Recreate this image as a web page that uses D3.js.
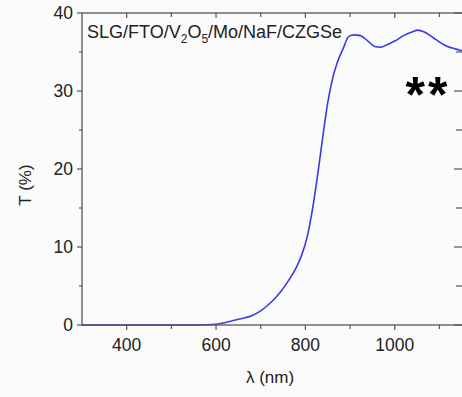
<!DOCTYPE html>
<html>
<head>
<meta charset="utf-8">
<script src="https://cdn.jsdelivr.net/npm/d3@7"></script>
<style>
  html, body { margin: 0; padding: 0; background: #fbfbfb; }
  svg { display: block; }
</style>
</head>
<body>
<div id="chart"></div>
<script>
// wavelength (nm) and transmittance (%)
const wavelengths = [300, 400, 500, 560, 600, 620, 655, 680, 700, 715, 730, 745, 760, 778, 790, 804, 818, 829, 841, 850, 860, 871, 885, 897, 910, 923, 940, 955, 968, 985, 1000, 1020, 1040, 1051, 1065, 1087, 1105, 1118, 1135, 1155]
const transmittance = [0, 0, 0, 0, 0.1, 0.3, 0.8, 1.2, 1.8, 2.5, 3.3, 4.3, 5.5, 7.2, 8.7, 11.3, 15.6, 19.9, 25, 28.5, 31.4, 33.6, 35.5, 37.0, 37.2, 37.1, 36.4, 35.7, 35.6, 36.0, 36.4, 37.1, 37.6, 37.8, 37.6, 36.8, 36.1, 35.7, 35.4, 35.1]
const xMajorTicks = [400, 600, 800, 1000]
const xMinorTicks = [500, 700, 900, 1100]
const yMajorTicks = [0, 10, 20, 30, 40]
const yMinorTicks = [5, 15, 25, 35]

const width = 462, height = 397
const margin = { top: 13, right: -2, bottom: 72, left: 82 }
const font = "'Liberation Sans', Arial, sans-serif"
const axisColor = "#555"

const svg = d3.select("#chart").append("svg")
  .attr("width", width).attr("height", height)
  .style("font-family", font)

svg.append("rect").attr("width", width).attr("height", height).attr("fill", "#fbfbfb")

const x = d3.scaleLinear().domain([300, 1155]).range([margin.left, width - margin.right])
const y = d3.scaleLinear().domain([0, 40]).range([height - margin.bottom, margin.top])

const x0 = x.range()[0], x1 = x.range()[1]
const y0 = y.range()[0], y1 = y.range()[1]

// line
const line = d3.line()
  .x((d, i) => x(wavelengths[i]))
  .y(d => y(d))
  .curve(d3.curveMonotoneX)

svg.append("path")
  .datum(transmittance)
  .attr("d", line)
  .attr("fill", "none")
  .attr("stroke", "#3a3ae6")
  .attr("stroke-width", 1.6)

// frame
svg.append("rect")
  .attr("x", x0).attr("y", y1)
  .attr("width", x1 - x0).attr("height", y0 - y1)
  .attr("fill", "none").attr("stroke", axisColor).attr("stroke-width", 1.3)

const ticks = svg.append("g").attr("stroke", axisColor).attr("stroke-width", 1.2)

// bottom (outward) and top (inward) ticks
xMajorTicks.concat(xMinorTicks).forEach(v => {
  const len = xMajorTicks.includes(v) ? 5 : 4
  ticks.append("line").attr("x1", x(v)).attr("x2", x(v)).attr("y1", y0).attr("y2", y0 + len)
  ticks.append("line").attr("x1", x(v)).attr("x2", x(v)).attr("y1", y1).attr("y2", y1 + len)
})

// left (outward) and right (inward) ticks
yMajorTicks.concat(yMinorTicks).forEach(v => {
  const len = yMajorTicks.includes(v) ? 5 : 3
  ticks.append("line").attr("x1", x0).attr("x2", x0 - len).attr("y1", y(v)).attr("y2", y(v))
  ticks.append("line").attr("x1", x1).attr("x2", x1 - len - 5).attr("y1", y(v)).attr("y2", y(v))
})

svg.append("g").selectAll("text")
  .data(xMajorTicks).enter().append("text")
  .attr("x", d => x(d)).attr("y", y0 + 26)
  .attr("text-anchor", "middle")
  .attr("font-size", 17.5).attr("fill", "#222")
  .text(d => d)

svg.append("g").selectAll("text")
  .data(yMajorTicks).enter().append("text")
  .attr("x", x0 - 9).attr("y", d => y(d)).attr("dy", "0.36em")
  .attr("text-anchor", "end")
  .attr("font-size", 17.5).attr("fill", "#222")
  .text(d => d)

// axis titles
svg.append("text")
  .attr("x", 270).attr("y", 383)
  .attr("text-anchor", "middle")
  .attr("font-size", 17).attr("fill", "#222")
  .text("λ (nm)")

svg.append("text")
  .attr("transform", "translate(31,185) rotate(-90)")
  .attr("text-anchor", "middle")
  .attr("font-size", 17).attr("fill", "#222")
  .text("T (%)")

// sample label
const label = svg.append("text")
  .attr("x", 87).attr("y", 38)
  .attr("font-size", 18).attr("fill", "#222")
label.append("tspan").text("SLG/FTO/V")
label.append("tspan").attr("font-size", 12).attr("dy", 5).text("2")
label.append("tspan").attr("dy", -5).text("O")
label.append("tspan").attr("font-size", 12).attr("dy", 5).text("5")
label.append("tspan").attr("dy", -5).text("/Mo/NaF/CZGSe")

svg.append("text")
  .attr("x", 428).attr("y", 112)
  .attr("text-anchor", "middle")
  .attr("font-size", 50).attr("font-weight", "bold").attr("fill", "#000")
  .attr("letter-spacing", 3)
  .text("**")
</script>
</body>
</html>
